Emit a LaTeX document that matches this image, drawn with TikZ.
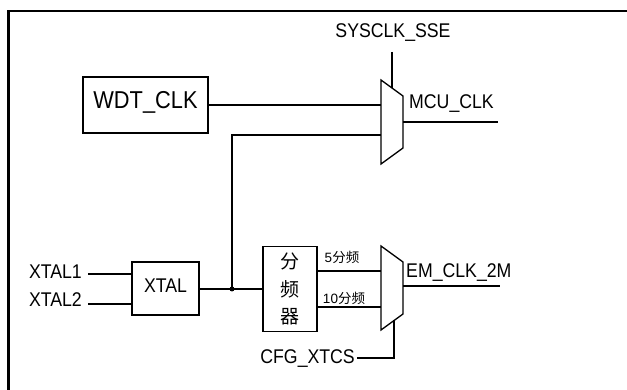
\documentclass[tikz,border=0pt]{standalone}
\usepackage{graphicx}
\usepackage{fontspec}
\setmainfont{Liberation Sans}
\newfontfamily\cjk{Noto Sans CJK SC}
\newcommand\tallbox[1]{\scalebox{1}[1.12]{#1}}
\begin{document}
\begin{tikzpicture}[x=1pt,y=-1pt,
  wire/.style={line width=1.3pt},
  blk/.style={draw,line width=1.3pt,inner sep=0pt},
  lbl/.style={inner sep=0pt,font=\fontsize{17.7}{20}\selectfont,text height=0.80em,text depth=0pt},
  small/.style={inner sep=0pt,font=\fontsize{13.5}{15}\selectfont},
  dot/.style={circle,fill,inner sep=0pt,minimum size=5pt}]
\useasboundingbox (0,0) rectangle (627,390);
% frame
\draw[line width=2.5pt] (8.5,390) -- (8.5,11.2) -- (627,11.2);

% boxes
\node[blk,minimum width=125pt,minimum height=56pt,font=\fontsize{21.8}{24}\selectfont,text height=0.80em,text depth=0pt] (wdt) at (145.5,105) {\tallbox{WDT\_CLK}};
\node[blk,minimum width=67pt,minimum height=53pt,font=\fontsize{17.7}{20}\selectfont,text height=0.80em,text depth=0pt] (xtal) at (165.5,288.5) {\tallbox{XTAL}};
\node[blk,minimum width=54pt,minimum height=85pt,align=center,font=\cjk\fontsize{19}{27.5}\selectfont] (div) at (290,289) {分\\频\\器};

% muxes
\coordinate (m1a) at (381,80);
\coordinate (m1b) at (403,96);
\coordinate (m1c) at (403,148);
\coordinate (m1d) at (381,164);
\draw[wire] (m1a) -- (m1b) -- (m1c) -- (m1d) -- cycle;
\coordinate (m2a) at (381,246);
\coordinate (m2b) at (403,262);
\coordinate (m2c) at (403,314);
\coordinate (m2d) at (381,330);
\draw[wire] (m2a) -- (m2b) -- (m2c) -- (m2d) -- cycle;

% labels
\node[lbl] (sys) at (393,34) {\tallbox{SYSCLK\_SSE}};
\node[lbl,anchor=west] (mcu) at (409,105) {\tallbox{MCU\_CLK}};
\node[lbl,anchor=east] (x1) at (82,275) {\tallbox{XTAL1}};
\node[lbl,anchor=east] (x2) at (82,303) {\tallbox{XTAL2}};
\node[lbl,anchor=west] (em) at (406,273.5) {\tallbox{EM\_CLK\_2M}};
\node[lbl,anchor=east] (cfg) at (355,359) {\tallbox{CFG\_XTCS}};
\node[small,anchor=base] (d5) at (342,263) {5{\cjk 分频}};
\node[small,anchor=base] (d10) at (344,304) {10{\cjk 分频}};

% named points
\coordinate (m1in1) at (381,105);
\coordinate (m1in2) at (381,135);
\coordinate (m1out) at (403,122);
\coordinate (mcuend) at (498,122);
\coordinate (systop) at (392,52);
\coordinate (sysbot) at (392,88);
\coordinate (m2in1) at (381,271);
\coordinate (m2in2) at (381,307);
\coordinate (m2out) at (403,286);
\coordinate (emend) at (500,286);
\coordinate (cfgbot) at (394,320.5);
\coordinate (cfgc) at (394,358);
\node[dot] (j) at (232,289) {};

% wires
\draw[wire] (wdt.east |- m1in1) -- (m1in1);
\draw[wire] (j.center) |- (m1in2);
\draw[wire] (systop) -- (sysbot);
\draw[wire] (m1out) -- (mcuend);
\draw[wire] (88,274) -- (xtal.west |- 0,274);
\draw[wire] (88,304) -- (xtal.west |- 0,304);
\draw[wire] (xtal.east |- j) -- (j.center) -- (div.west |- j);
\draw[wire] (div.east |- m2in1) -- (m2in1);
\draw[wire] (div.east |- m2in2) -- (m2in2);
\draw[wire] (m2out) -- (emend);
\draw[wire] (357,358) -- (cfgc) -- (cfgbot);
\end{tikzpicture}
\end{document}
